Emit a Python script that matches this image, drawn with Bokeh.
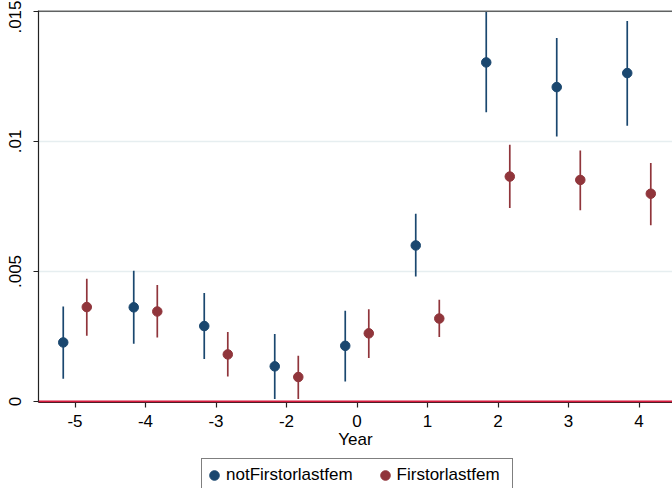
import numpy as np
from bokeh.plotting import figure
from bokeh.layouts import column
from bokeh.models import (ColumnDataSource, FixedTicker, Span, Legend, LegendItem, Range1d)
from bokeh.embed import file_html
from bokeh.resources import INLINE

# ---- data ----
years = [-5, -4, -3, -2, 0, 1, 2, 3, 4]
blue_est = [0.00227, 0.00362, 0.00290, 0.00135, 0.00214, 0.00600, 0.01304, 0.01209, 0.01263]
blue_lo = [0.00087, 0.00222, 0.00163, 0.00009, 0.00077, 0.00481, 0.01112, 0.01019, 0.01060]
blue_hi = [0.00365, 0.00503, 0.00417, 0.00259, 0.00349, 0.00722, 0.01498, 0.01398, 0.01463]
red_est = [0.00363, 0.00346, 0.00181, 0.00094, 0.00262, 0.00319, 0.00865, 0.00852, 0.00799]
red_lo = [0.00253, 0.00246, 0.00096, 0.00009, 0.00167, 0.00248, 0.00744, 0.00735, 0.00678]
red_hi = [0.00472, 0.00448, 0.00267, 0.00176, 0.00355, 0.00391, 0.00987, 0.00965, 0.00917]
y_ticks = [0, 0.005, 0.01, 0.015]
y_tick_labels = ["0", ".005", ".01", ".015"]
series_names = ["notFirstorlastfem", "Firstorlastfem"]

NAVY = "#1a476f"
MAROON = "#90353b"
FONT = "Liberation Sans"

pos = np.arange(1, len(years) + 1)
off = 0.167

blue_src = ColumnDataSource(dict(x=pos - off, y=blue_est, lo=blue_lo, hi=blue_hi))
red_src = ColumnDataSource(dict(x=pos + off, y=red_est, lo=red_lo, hi=red_hi))

p = figure(width=672, height=458, output_backend="svg", toolbar_location=None,
           x_range=Range1d(0.482, 9.475), y_range=Range1d(-0.00004, 0.015037),
           min_border_left=38, min_border_right=0, min_border_top=10, min_border_bottom=56,
           background_fill_color="white", border_fill_color="white")
p.outline_line_color = None

# grid
p.xgrid.visible = False
p.ygrid.ticker = FixedTicker(ticks=y_ticks)
p.ygrid.grid_line_color = "#e6eef0"
p.ygrid.grid_line_width = 1.3

# axes
p.xaxis.ticker = FixedTicker(ticks=list(pos))
p.xaxis.major_label_overrides = {int(k): str(v) for k, v in zip(pos, years)}
p.xaxis.axis_label = "Year"
p.yaxis.ticker = FixedTicker(ticks=y_ticks)
p.yaxis.major_label_overrides = {k: v for k, v in zip(y_ticks, y_tick_labels)}
p.yaxis.major_label_orientation = "vertical"
for ax in (p.xaxis, p.yaxis):
    ax.axis_line_color = "#222222"
    ax.axis_line_width = 1.2
    ax.major_tick_line_color = "#222222"
    ax.major_tick_line_width = 1.2
    ax.major_tick_out = 5
    ax.major_tick_in = 0
    ax.minor_tick_line_color = None
    ax.major_label_text_font = FONT
    ax.major_label_text_font_size = "17px"
    ax.major_label_text_color = "#000000"
    ax.axis_label_text_font = FONT
    ax.axis_label_text_font_size = "17px"
    ax.axis_label_text_font_style = "normal"
    ax.axis_label_text_color = "#000000"
p.xaxis.major_label_standoff = 7
p.xaxis.axis_label_standoff = 0
p.yaxis.major_label_standoff = 12

# top border line
p.add_layout(Span(location=0.015015, dimension="width", line_color="#333333", line_width=1.5))
# zero line
p.add_layout(Span(location=0, dimension="width", line_color="#d91b3e", line_width=2))

# CIs and points
p.segment(x0="x", y0="lo", x1="x", y1="hi", source=blue_src, line_color=NAVY, line_width=1.7)
p.segment(x0="x", y0="lo", x1="x", y1="hi", source=red_src, line_color=MAROON, line_width=1.7)
p.scatter("x", "y", source=blue_src, size=9.5, fill_color=NAVY, line_color=NAVY)
p.scatter("x", "y", source=red_src, size=9.5, fill_color=MAROON, line_color=MAROON)

# legend strip (its own ranges keep the data out of view; only the legend shows)
lg = figure(width=672, height=30, output_backend="svg", toolbar_location=None,
            x_range=Range1d(100, 101), y_range=Range1d(100, 101),
            x_axis_type=None, y_axis_type=None,
            min_border_left=0, min_border_right=0, min_border_top=0, min_border_bottom=0,
            background_fill_color="white", border_fill_color="white")
lg.outline_line_color = None
lg.xgrid.visible = False
lg.ygrid.visible = False
lb = lg.scatter("x", "y", source=blue_src, size=9.5, fill_color=NAVY, line_color=NAVY)
lr = lg.scatter("x", "y", source=red_src, size=9.5, fill_color=MAROON, line_color=MAROON)
legend = Legend(items=[LegendItem(label=series_names[0], renderers=[lb]),
                       LegendItem(label=series_names[1], renderers=[lr])],
                location=(163, -4), orientation="horizontal",
                padding=0, margin=0, spacing=20, glyph_width=24, glyph_height=32,
                label_height=32, label_standoff=0, label_width=115,
                label_text_font=FONT, label_text_font_size="17px", label_text_color="#000000",
                border_line_color="#000000", border_line_width=1,
                background_fill_color="white", background_fill_alpha=1)
lg.add_layout(legend, "center")

layout = column(p, lg, spacing=0)
open("out.html", "w").write(file_html(layout, INLINE))
